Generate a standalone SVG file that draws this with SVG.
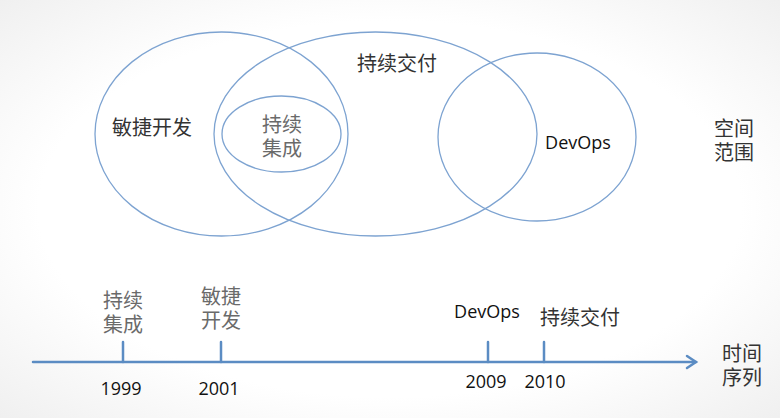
<svg xmlns="http://www.w3.org/2000/svg" width="780" height="418" viewBox="0 0 780 418">
<defs>
<radialGradient id="bg" cx="50%" cy="50%" r="75%">
<stop offset="0.6" stop-color="#ffffff"/>
<stop offset="1" stop-color="#ededed"/>
</radialGradient>
<style>
.ring{fill:none;stroke:#7da3d1;stroke-width:1.3}
.cjk{font-family:"Liberation Sans","Noto Sans CJK SC",sans-serif;font-size:20px;text-anchor:middle}
.lat{font-family:"Open Sans","Liberation Sans",sans-serif;font-size:18px;text-anchor:middle;fill:#111}
.dark{fill:#333}
.gray{fill:#6a6a6a}
.axis{stroke:#5b8cc3;stroke-width:2.5;fill:none;stroke-linecap:round}
</style>
</defs>
<rect width="780" height="418" fill="url(#bg)"/>
<g id="agile"><ellipse class="ring" cx="221.5" cy="134" rx="126.5" ry="102"/><text class="cjk dark" x="152" y="135">敏捷开发</text></g>
<g id="cd"><ellipse class="ring" cx="375.5" cy="134" rx="161.5" ry="102"/><text class="cjk dark" x="397" y="71">持续交付</text></g>
<g id="ci"><ellipse class="ring" cx="281.5" cy="134" rx="59.5" ry="38"/><text class="cjk gray" x="282" y="132">持续</text><text class="cjk gray" x="282" y="156">集成</text></g>
<g id="devops"><ellipse class="ring" cx="537" cy="137" rx="99" ry="84"/><text class="lat" x="578" y="149">DevOps</text></g>
<g id="space"><text class="cjk dark" x="734" y="136">空间</text><text class="cjk dark" x="734" y="160">范围</text></g>
<g id="connectors">
<line class="axis" x1="33" y1="362" x2="696" y2="362"/>
<polyline class="axis" points="687,356 696,362 687,368"/>
<line class="axis" x1="123" y1="342" x2="123" y2="362"/>
<line class="axis" x1="221" y1="342" x2="221" y2="362"/>
<line class="axis" x1="488" y1="342" x2="488" y2="362"/>
<line class="axis" x1="544" y1="342" x2="544" y2="362"/>
</g>
<g id="t1999"><text class="cjk gray" x="123" y="308">持续</text><text class="cjk gray" x="123" y="332">集成</text><text class="lat" x="121" y="395">1999</text></g>
<g id="t2001"><text class="cjk gray" x="221" y="304">敏捷</text><text class="cjk gray" x="221" y="328">开发</text><text class="lat" x="219" y="395">2001</text></g>
<g id="t2009"><text class="lat" x="487" y="318">DevOps</text><text class="lat" x="486" y="388">2009</text></g>
<g id="t2010"><text class="cjk dark" x="580" y="325">持续交付</text><text class="lat" x="545" y="388">2010</text></g>
<g id="time"><text class="cjk dark" x="742" y="361">时间</text><text class="cjk dark" x="742" y="385">序列</text></g>
</svg>
